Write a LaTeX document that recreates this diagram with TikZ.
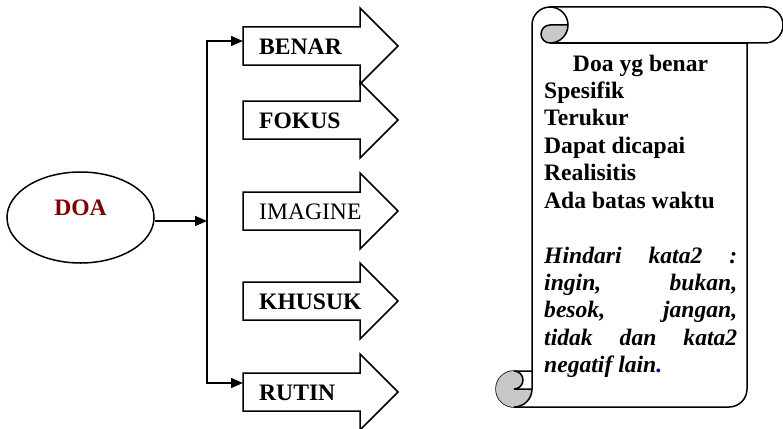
\documentclass[tikz,border=0pt]{standalone}
\usepackage{fontspec}
\setmainfont{Liberation Serif}
\usetikzlibrary{arrows.meta,shapes.geometric}

\begin{document}
\begin{tikzpicture}[x=1pt,y=1pt,yscale=-1,xscale=1,
    >={Triangle[length=12pt,width=10pt]},
    line/.style={line width=1.5pt},
    blockarrow/.style={line width=1.5pt,fill=white,line join=miter},
    arrowtext/.style={anchor=west,inner xsep=16pt,inner ysep=0pt,text height=16pt,text depth=0pt,font=\fontsize{23.6}{27.4}\selectfont\bfseries},
    scrolltext/.style={anchor=base west,inner sep=0pt,font=\fontsize{23.6}{27.4}\selectfont\bfseries},
    curl/.style={fill={rgb, 255:red, 200; green, 200; blue, 200 }}]
    \useasboundingbox (0,0) rectangle (783,428);

    % Ellipse
    \node[ellipse,draw,line,minimum width=147pt,minimum height=91pt,inner sep=0pt,text height=16pt,text depth=20.4pt,
          text={rgb, 255:red, 128; green, 0; blue, 0 },font=\fontsize{23.6}{27.4}\selectfont\bfseries] (doa) at (80.5,217.5) {DOA};

    % Block arrows
    \foreach \yc/\nm/\txt in {46/benar/BENAR,120/fokus/FOKUS,211/imagine/\mdseries IMAGINE,301/khusuk/KHUSUK,392/rutin/RUTIN}{
        \draw[blockarrow] (243,\yc-19) -- (360,\yc-19) -- (360,\yc-38) -- (398,\yc) -- (360,\yc+38) -- (360,\yc+19) -- (243,\yc+19) -- cycle;
        \node[arrowtext] (\nm) at (243,\yc) {\txt};
    }

    % Connectors
    \coordinate (top) at (207,41);
    \coordinate (bottom) at (207,383);
    \coordinate (spine) at (207,221);
    \draw[line,<->] (top -| benar.west) -- (top) -- (bottom) -- (bottom -| rutin.west);
    \draw[line,->] (doa.east |- spine) -- (spine);

    % Scroll
    \draw[line,fill=white] (532,371) -- (532,25) arc[start angle=180,end angle=270,radius=18] -- (765,7)
        arc[start angle=270,end angle=450,radius=18] -- (747,43) -- (747,389)
        arc[start angle=0,end angle=90,radius=18] -- (514,407)
        arc[start angle=90,end angle=270,radius=18] -- cycle;
    \fill[curl] (568,25) arc[start angle=0,end angle=90,radius=18] arc[start angle=90,end angle=270,radius=9] -- cycle;
    \fill[curl] (532,389) arc[start angle=0,end angle=270,radius=18] arc[start angle=270,end angle=450,radius=9] -- cycle;
    \draw[line] (550,7) arc[start angle=270,end angle=450,radius=18] arc[start angle=90,end angle=270,radius=9] -- (568,25);
    \draw[line] (747,43) -- (550,43);
    \draw[line] (514,371) arc[start angle=270,end angle=450,radius=9] -- (532,389);
    \draw[line] (514,407) arc[start angle=90,end angle=0,radius=18] -- (532,371);

    % Text Node
    \node[scrolltext,anchor=base] (s1) at (640.5,71) {Doa yg benar};
    \node[scrolltext] (s2) at (544,98.4) {Spesifik};
    \node[scrolltext] (s3) at (544,125.8) {Terukur};
    \node[scrolltext] (s4) at (544,153.2) {Dapat dicapai};
    \node[scrolltext] (s5) at (544,180.6) {Realisitis};
    \node[scrolltext] (s6) at (544,208) {Ada batas waktu};
    \node[scrolltext] (s7) at (544,263) {\itshape\makebox[193pt][s]{Hindari kata2 :}};
    \node[scrolltext] (s8) at (544,290.4) {\itshape\makebox[193pt][s]{ingin, bukan,}};
    \node[scrolltext] (s9) at (544,317.8) {\itshape\makebox[193pt][s]{besok, jangan,}};
    \node[scrolltext] (s10) at (544,345.2) {\itshape\makebox[193pt][s]{tidak dan kata2}};
    \node[scrolltext] (s11) at (544,372.6) {\itshape negatif lain{\color{blue!50!black}.}};
\end{tikzpicture}
\end{document}
